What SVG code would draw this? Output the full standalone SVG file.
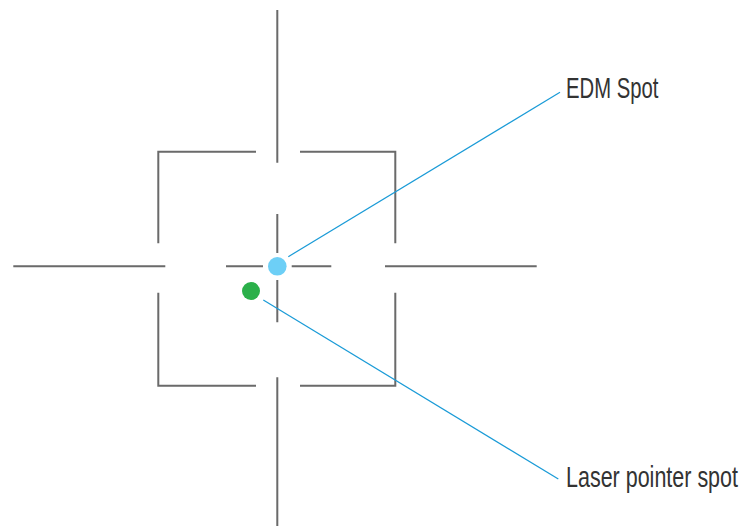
<svg xmlns="http://www.w3.org/2000/svg" width="743" height="526" viewBox="0 0 743 526">
<style>
.r{stroke:#6a6a6a;stroke-width:2;fill:none}
.l{stroke:#1a9bd7;stroke-width:1.2;fill:none}
.t{font-family:"Liberation Sans Narrow","Liberation Sans",Arial,sans-serif;font-size:29px;fill:#333}
</style>
<rect width="743" height="526" fill="#fff"/>
<g id="reticle">
<path class="r" d="M277.3 10V162.7M277.3 214V253M277.3 280V322.3M277.3 377.3V526"/>
<path class="r" d="M13.3 266.3H165.3M226 266.3H263M291.7 266.3H331.3M385 266.3H536.7"/>
<path class="r" d="M256 151.7H158.3V243.3M300 151.7H395.3V243.3M158.3 292.7V385.7H256M300 385.7H395.3V292.7"/>
</g>
<g id="edm-spot">
<circle cx="277.3" cy="266.3" r="9.3" fill="#6dcff6"/>
<text class="t" x="566" y="98.3" textLength="92.3" lengthAdjust="spacingAndGlyphs">EDM Spot</text>
</g>
<g id="laser-spot">
<circle cx="251" cy="291" r="9" fill="#2bb04a"/>
<text class="t" x="566" y="486.7" textLength="172" lengthAdjust="spacingAndGlyphs">Laser pointer spot</text>
</g>
<g id="connectors">
<line class="l" x1="288.3" y1="256.7" x2="560" y2="92.3"/>
<line class="l" x1="263.3" y1="300" x2="558.3" y2="479"/>
</g>
</svg>
